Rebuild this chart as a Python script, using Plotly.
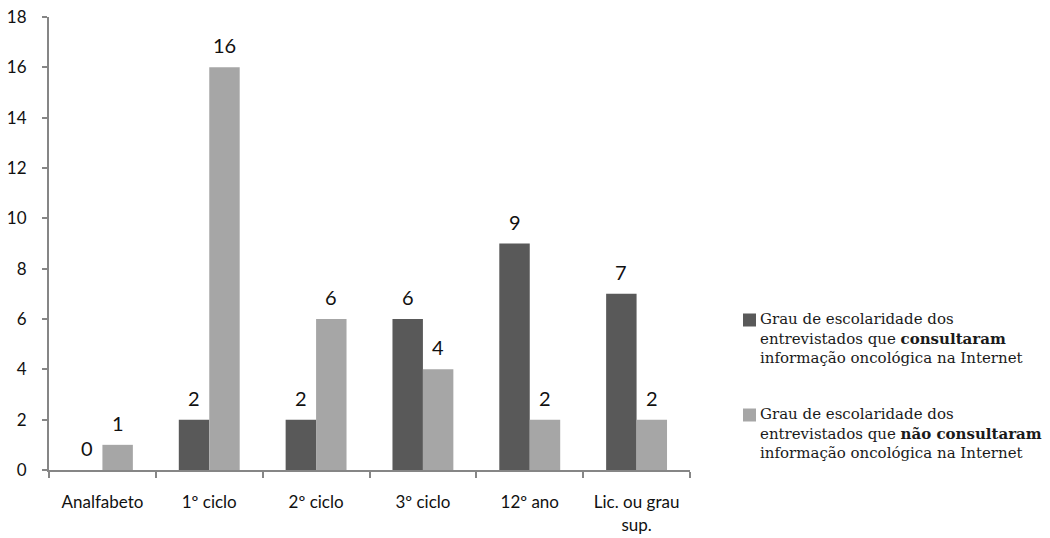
import plotly.graph_objects as go

categorias = ["Analfabeto", "1º ciclo", "2º ciclo", "3º ciclo", "12º ano", "Lic. ou grau<br>sup."]
consultaram = [0, 2, 2, 6, 9, 7]
nao_consultaram = [1, 16, 6, 4, 2, 2]

legenda_consultaram = ("Grau de escolaridade dos<br>"
                       "entrevistados que <b>consultaram</b><br>"
                       "informação oncológica na Internet")
legenda_nao = ("Grau de escolaridade dos<br>"
               "entrevistados que <b>não consultaram</b><br>"
               "informação oncológica na Internet")

cor_consultaram = "#595959"
cor_nao = "#a6a6a6"

W, H = 1050, 538
M = dict(l=49, r=360, t=17, b=68)
plot_w = W - M["l"] - M["r"]
plot_h = H - M["t"] - M["b"]

label_font = dict(family="Lato, Open Sans, sans-serif", size=20, color="#111111")
axis_font = dict(family="Lato, Open Sans, sans-serif", size=17, color="#111111")
legend_font = dict(family="DejaVu Serif, Liberation Serif, serif", size=15, color="#1a1a1a")

fig = go.Figure()
fig.add_trace(go.Bar(x=categorias, y=consultaram, marker=dict(color=cor_consultaram, line=dict(width=0)),
                     offsetgroup="a", showlegend=False))
fig.add_trace(go.Bar(x=categorias, y=nao_consultaram, marker=dict(color=cor_nao, line=dict(width=0)),
                     offsetgroup="b", showlegend=False))

# value labels above each bar, shifted onto the left/right bar of each group
n = len(categorias)
cat_px = plot_w / n
bar_px = cat_px * (1 - 0.43) / 2
annotations = []
for serie, dx in ((consultaram, -bar_px / 2), (nao_consultaram, bar_px / 2)):
    for cat, v in zip(categorias, serie):
        annotations.append(dict(x=cat, y=v, xref="x", yref="y", text=str(v), showarrow=False,
                                xshift=dx, yshift=22, yanchor="middle", xanchor="center",
                                font=label_font))

# legend drawn as swatches plus a three-line text block per series
def px_to_paper_y(py):
    return (H - M["b"] - py) / plot_h

def px_to_paper_x(px):
    return (px - M["l"]) / plot_w

shapes = []
for texto, cor, y0 in ((legenda_consultaram, cor_consultaram, 320), (legenda_nao, cor_nao, 415)):
    shapes.append(dict(type="rect", xref="paper", yref="paper",
                       x0=px_to_paper_x(743), x1=px_to_paper_x(756),
                       y0=px_to_paper_y(y0 + 6.5), y1=px_to_paper_y(y0 - 6.5),
                       fillcolor=cor, line=dict(width=0)))
    annotations.append(dict(x=px_to_paper_x(759), y=px_to_paper_y(y0 - 11), xref="paper", yref="paper",
                            text=texto, showarrow=False, xanchor="left", yanchor="top", align="left",
                            borderpad=0, font=legend_font))

fig.update_layout(
    width=W, height=H, margin=M,
    paper_bgcolor="white", plot_bgcolor="white",
    barmode="group", bargap=0.43, bargroupgap=0,
    showlegend=False,
    annotations=annotations, shapes=shapes,
)

fig.update_xaxes(
    showline=True, linecolor="#868686", linewidth=2,
    ticks="outside", tickson="boundaries", ticklen=6, tickwidth=2, tickcolor="#868686",
    tickfont=axis_font, ticklabelstandoff=16, automargin=False,
    showgrid=False, zeroline=False, fixedrange=True,
)
fig.update_yaxes(
    range=[0, 18], dtick=2,
    showline=True, linecolor="#868686", linewidth=2,
    ticks="outside", ticklen=5, tickwidth=2, tickcolor="#868686",
    tickfont=axis_font, ticklabelstandoff=12, automargin=False,
    showgrid=False, zeroline=False, fixedrange=True,
)

fig.write_html("out.html")
